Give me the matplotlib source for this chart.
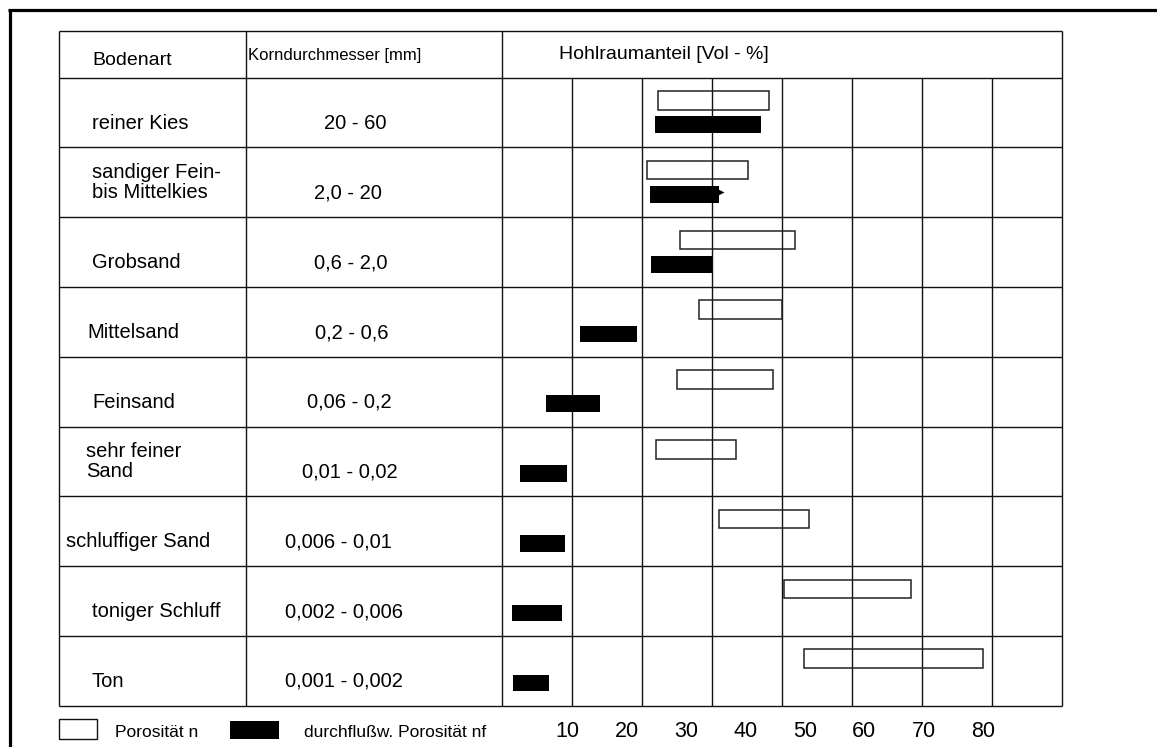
import matplotlib
matplotlib.use("Agg")
import matplotlib.pyplot as plt
from matplotlib.patches import Rectangle
import numpy as np

# --- data -------------------------------------------------------------
bodenart = ["reiner Kies", "sandiger Fein-\nbis Mittelkies", "Grobsand", "Mittelsand",
            "Feinsand", "sehr feiner\nSand", "schluffiger Sand", "toniger Schluff", "Ton"]
korndurchmesser = ["20 - 60", "2,0 - 20", "0,6 - 2,0", "0,2 - 0,6", "0,06 - 0,2",
                   "0,01 - 0,02", "0,006 - 0,01", "0,002 - 0,006", "0,001 - 0,002"]

# Porositaet n (von - bis) in Vol-%
n_von = [25.3, 23.5, 28.9, 32.2, 28.5, 24.9, 35.6, 46.5, 49.9]
n_bis = [44.0, 40.4, 48.4, 46.2, 44.6, 38.4, 50.7, 67.8, 80.0]
# durchflusswirksame Porositaet nf (von - bis) in Vol-%
nf_von = [24.8, 23.9, 24.1, 12.2, 6.4, 2.1, 2.1, 0.7, 0.9]
nf_bis = [42.6, 35.5, 34.4, 21.7, 15.6, 10.0, 9.6, 9.1, 6.9]

skala = [10, 20, 30, 40, 50, 60, 70, 80]

# --- layout (pixels) ----------------------------------------------------
W, H = 1157, 747
x_tab = [59, 246, 502, 1062]
y_top, y_head, y_bot = 31.3, 77.7, 705.7
row_h = (y_bot - y_head) / len(bodenart)
grid_w = 70
# px position of value 45 and px per Vol-% (scale of the bottom labels)
px45, px_per = 775.25, 5.945

name_x = [92, 92, 92, 87, 92, 86, 66, 92, 92]
korn_x = [324, 314, 314, 315, 307, 302, 285, 285, 285]

plt.rcParams['font.family'] = ['Liberation Sans', 'DejaVu Sans']
fs = 14.5
fs_head = 14
fs_leg = 12.5

fig = plt.figure(figsize=(W / 100, H / 100), dpi=100)
fig.patch.set_facecolor('white')

tab = fig.add_axes([0, 0, 1, 1])
tab.set_xlim(0, W)
tab.set_ylim(H, 0)
tab.axis('off')

lc = '#111111'
lw = 1.0
# outer frame (thick, top and left)
tab.plot([8, W], [9.7, 9.7], color='black', lw=2.3, solid_capstyle='butt')
tab.plot([10, 10], [8.5, H], color='black', lw=2.3, solid_capstyle='butt')

# table lines
tab.hlines([y_top, y_head], x_tab[0], x_tab[-1], color=lc, lw=lw)
row_lines = y_head + row_h * np.arange(1, len(bodenart) + 1)
tab.hlines(row_lines, x_tab[0], x_tab[-1], color=lc, lw=lw)
tab.vlines(x_tab, y_top, y_bot, color=lc, lw=lw)
grid_x = np.arange(x_tab[2] + grid_w, x_tab[3] - 1, grid_w)
tab.vlines(grid_x, y_head, y_bot, color=lc, lw=lw)

# header
tab.text(92, 65, "Bodenart", fontsize=fs_head, ha='left', va='baseline')
tab.text(248, 60, "Korndurchmesser [mm]", fontsize=12, ha='left', va='baseline')
tab.text(559, 59, "Hohlraumanteil [Vol - %]", fontsize=fs_head, ha='left', va='baseline')

# row texts
for i, (name, korn) in enumerate(zip(bodenart, korndurchmesser)):
    top = y_head + i * row_h
    if "\n" in name:
        # baseline of the last line sits where the value text sits
        tab.text(name_x[i], top + 50.5, name, fontsize=fs, ha='left', va='baseline',
                 linespacing=1.05)
    else:
        tab.text(name_x[i], top + 51, name, fontsize=fs, ha='left', va='baseline')
    tab.text(korn_x[i], top + 51, korn, fontsize=fs, ha='left', va='baseline')

# legend
tab.add_patch(Rectangle((59.3, 718.7), 37.4, 20, facecolor='white', edgecolor=lc, lw=lw))
tab.text(115, 736.7, "Porosität n", fontsize=fs_leg, ha='left', va='baseline')
tab.add_patch(Rectangle((230, 721), 49.3, 17.7, facecolor='black', edgecolor='none'))
tab.text(304, 736.7, "durchflußw. Porosität nf", fontsize=fs_leg, ha='left', va='baseline')

# --- bar axes -------------------------------------------------------------
ax = fig.add_axes([x_tab[2] / W, 1 - y_bot / H, (x_tab[3] - x_tab[2]) / W, (y_bot - y_head) / H])
ax.set_xlim(45 + (x_tab[2] - px45) / px_per, 45 + (x_tab[3] - px45) / px_per)
ax.set_ylim(len(bodenart), 0)
ax.patch.set_alpha(0)
for s in ax.spines.values():
    s.set_visible(False)

y = np.arange(len(bodenart))
n_von_a, n_bis_a = np.array(n_von), np.array(n_bis)
nf_von_a, nf_bis_a = np.array(nf_von), np.array(nf_bis)
ax.barh(y + 0.325, n_bis_a - n_von_a, left=n_von_a, height=0.265,
        facecolor='none', edgecolor='#222222', lw=1.1)
ax.barh(y + 0.673, nf_bis_a - nf_von_a, left=nf_von_a, height=0.24,
        color='black', edgecolor='none')
# small jagged tip at the end of the second nf bar
ax.plot([nf_bis[1]], [1 + 0.64], marker='>', ms=7, color='black', mec='none')

ax.set_yticks([])
ax.set_xticks(skala)
ax.set_xticklabels([str(v) for v in skala], fontsize=15.5)
ax.tick_params(axis='x', length=0, pad=11)

fig.savefig("out.png", dpi=100)
